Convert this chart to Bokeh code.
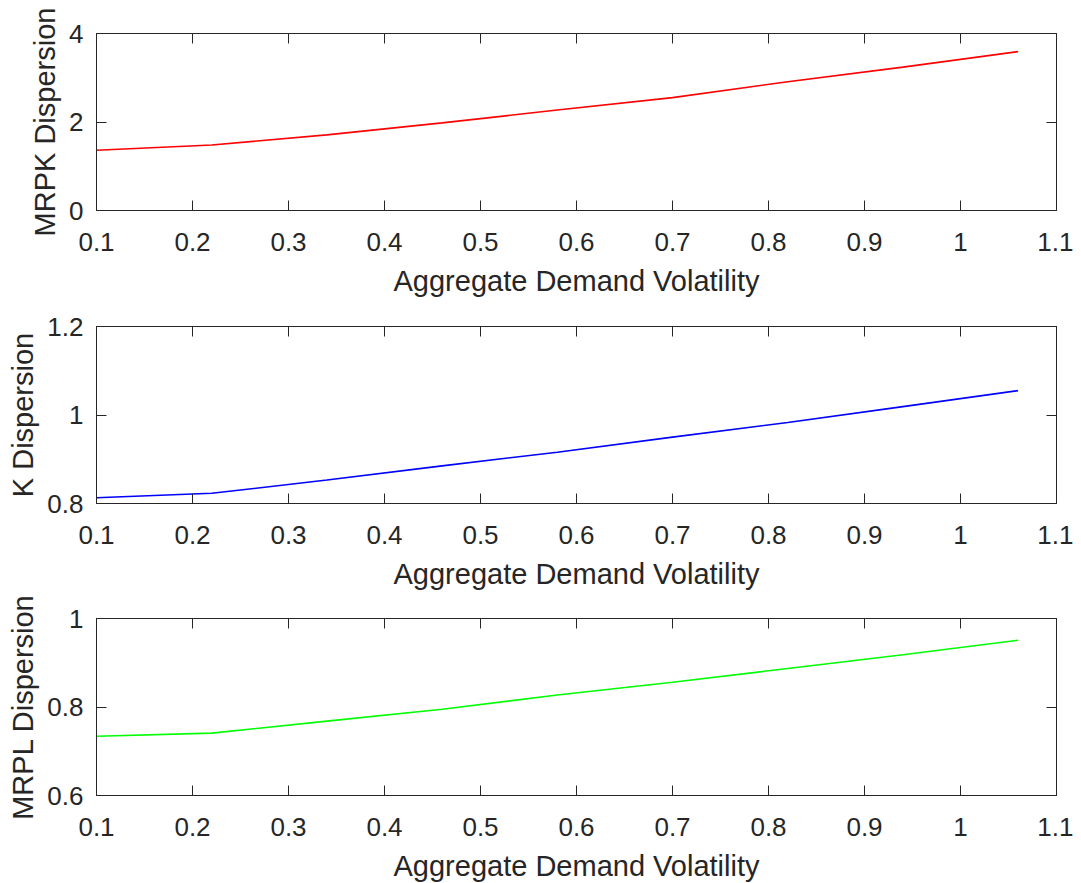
from bokeh.plotting import figure
from bokeh.layouts import column
from bokeh.models import LinearAxis, FixedTicker, PrintfTickFormatter, Range1d
from bokeh.embed import file_html
from bokeh.resources import INLINE

# Data
volatility = [0.10, 0.22, 0.34, 0.46, 0.58, 0.70, 0.82, 0.94, 1.06]
mrpk_dispersion = [1.36, 1.48, 1.71, 1.98, 2.27, 2.55, 2.91, 3.24, 3.59]
k_dispersion = [0.813, 0.823, 0.853, 0.885, 0.916, 0.950, 0.983, 1.019, 1.055]
mrpl_dispersion = [0.734, 0.741, 0.768, 0.795, 0.827, 0.856, 0.887, 0.918, 0.951]

x_ticks = [0.1, 0.2, 0.3, 0.4, 0.5, 0.6, 0.7, 0.8, 0.9, 1.0, 1.1]
x_label = "Aggregate Demand Volatility"

panels = [
    dict(y=mrpk_dispersion, color="#ff0000", ylabel="MRPK Dispersion", yr=(0, 4), yt=[0, 2, 4]),
    dict(y=k_dispersion, color="#0000ff", ylabel="K Dispersion", yr=(0.8, 1.2), yt=[0.8, 1.0, 1.2]),
    dict(y=mrpl_dispersion, color="#00ff00", ylabel="MRPL Dispersion", yr=(0.6, 1.0), yt=[0.6, 0.8, 1.0]),
]

AX = "#262626"
FONT = "Liberation Sans"
TICK_FS = "26px"
LABEL_FS = "29px"
borders_top = [33, 27, 26]

figs = []
for i, pn in enumerate(panels):
    p = figure(frame_width=960, frame_height=177, output_backend="svg", toolbar_location=None,
               x_range=Range1d(0.1, 1.1), y_range=Range1d(*pn["yr"]),
               min_border_left=96, min_border_right=17, min_border_top=borders_top[i],
               min_border_bottom=0, x_axis_location=None, y_axis_location=None)
    p.grid.visible = False
    p.outline_line_color = AX
    p.outline_line_width = 1
    p.background_fill_color = "white"
    p.border_fill_color = "white"

    xb = LinearAxis(axis_label=x_label)
    yl = LinearAxis(axis_label=pn["ylabel"])
    xt = LinearAxis()
    yr = LinearAxis()
    for ax, ticks in ((xb, x_ticks), (xt, x_ticks), (yl, pn["yt"]), (yr, pn["yt"])):
        ax.ticker = FixedTicker(ticks=ticks)
        ax.formatter = PrintfTickFormatter(format="%g")
        ax.axis_line_color = AX
        ax.axis_line_width = 1
        ax.major_tick_line_color = AX
        ax.major_tick_line_width = 1
        ax.major_tick_in = 10
        ax.major_tick_out = 0
        ax.minor_tick_line_color = None
        ax.major_label_text_font = FONT
        ax.major_label_text_font_size = TICK_FS
        ax.major_label_text_color = AX
        ax.axis_label_text_font = FONT
        ax.axis_label_text_font_size = LABEL_FS
        ax.axis_label_text_font_style = "normal"
        ax.axis_label_text_color = AX
    for ax in (xt, yr):
        ax.major_label_text_font_size = "0px"
        ax.major_label_standoff = 0
    xb.major_label_standoff = 22
    xb.axis_label_standoff = 11
    yl.major_label_standoff = 13
    yl.axis_label_standoff = 5
    p.add_layout(xb, "below")
    p.add_layout(yl, "left")
    p.add_layout(xt, "above")
    p.add_layout(yr, "right")

    p.line(volatility, pn["y"], line_color=pn["color"], line_width=1.6)
    figs.append(p)

layout = column(*figs, spacing=0)
open("out.html", "w").write(file_html(layout, INLINE))
